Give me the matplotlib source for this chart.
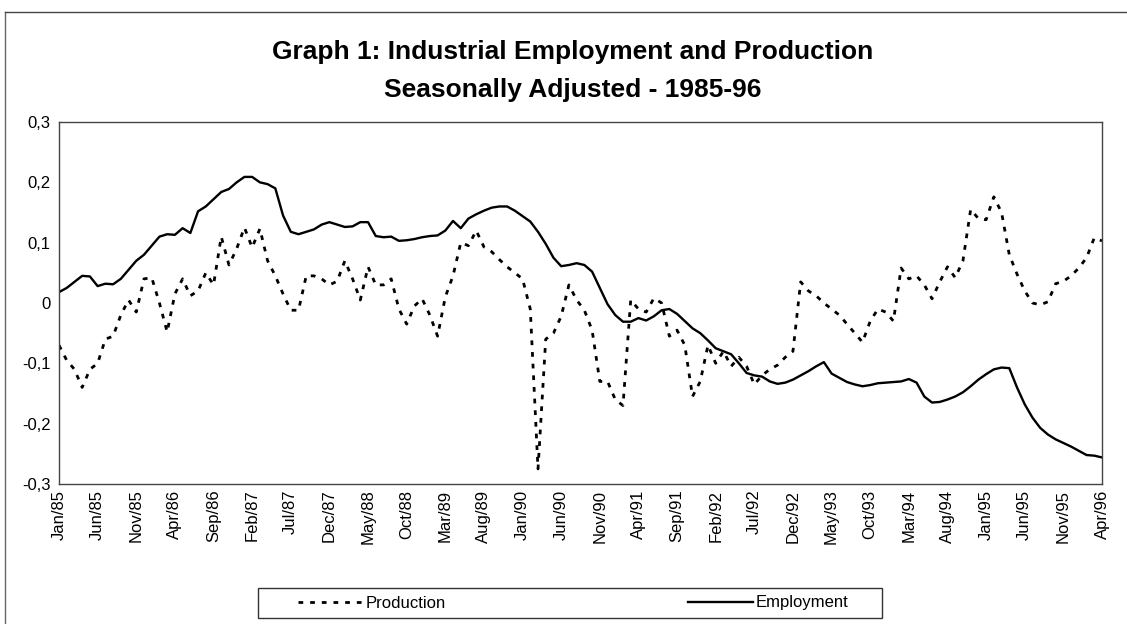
import matplotlib
matplotlib.use("Agg")
import matplotlib.pyplot as plt
from matplotlib.lines import Line2D
from matplotlib.patches import Rectangle
import numpy as np

plt.rcParams['font.family'] = ['Liberation Sans', 'DejaVu Sans']

# Monthly series Jan/85 .. Apr/96 (136 months)
months_abbr = ["Jan", "Feb", "Mar", "Apr", "May", "Jun", "Jul", "Aug", "Sep", "Oct", "Nov", "Dec"]
start_year = 85
n_months = 136

employment = [
    0.018, 0.025, 0.035, 0.045, 0.044, 0.028, 0.032, 0.031, 0.040, 0.055,
    0.070, 0.080, 0.095, 0.110, 0.114, 0.113, 0.124, 0.116, 0.152, 0.160,
    0.172, 0.184, 0.189, 0.200, 0.209, 0.209, 0.200, 0.197, 0.190, 0.145,
    0.118, 0.114, 0.118, 0.122, 0.130, 0.134, 0.130, 0.126, 0.127, 0.134,
    0.134, 0.111, 0.109, 0.110, 0.103, 0.104, 0.106, 0.109, 0.111, 0.112,
    0.120, 0.136, 0.124, 0.140, 0.147, 0.153, 0.158, 0.160, 0.160, 0.153,
    0.144, 0.135, 0.118, 0.098, 0.075, 0.061, 0.063, 0.066, 0.063, 0.052,
    0.025, -0.002, -0.020, -0.031, -0.031, -0.025, -0.029, -0.022, -0.012, -0.010,
    -0.018, -0.030, -0.042, -0.050, -0.062, -0.075, -0.080, -0.085, -0.100, -0.116,
    -0.120, -0.122, -0.130, -0.134, -0.132, -0.127, -0.120, -0.113, -0.105, -0.098,
    -0.117, -0.124, -0.131, -0.135, -0.138, -0.136, -0.133, -0.132, -0.131, -0.130,
    -0.126, -0.132, -0.155, -0.165, -0.164, -0.160, -0.155, -0.148, -0.138, -0.127,
    -0.118, -0.110, -0.107, -0.108, -0.140, -0.168, -0.190, -0.207, -0.218, -0.226,
    -0.232, -0.238, -0.245, -0.252, -0.253, -0.256,
]

production = [
    -0.070, -0.095, -0.110, -0.140, -0.110, -0.100, -0.060, -0.055, -0.020, 0.005,
    -0.015, 0.040, 0.042, 0.000, -0.048, 0.015, 0.040, 0.012, 0.020, 0.050,
    0.030, 0.110, 0.063, 0.090, 0.125, 0.092, 0.123, 0.070, 0.045, 0.015,
    -0.012, -0.012, 0.045, 0.045, 0.040, 0.030, 0.036, 0.070, 0.040, 0.005,
    0.060, 0.030, 0.030, 0.040, -0.010, -0.035, -0.005, 0.007, -0.020, -0.055,
    0.010, 0.045, 0.100, 0.095, 0.120, 0.093, 0.085, 0.072, 0.060, 0.050,
    0.040, -0.010, -0.275, -0.060, -0.050, -0.022, 0.030, 0.005, -0.012, -0.045,
    -0.130, -0.130, -0.160, -0.170, 0.005, -0.010, -0.015, 0.008, 0.000, -0.055,
    -0.045, -0.070, -0.155, -0.130, -0.070, -0.100, -0.080, -0.105, -0.090, -0.105,
    -0.135, -0.120, -0.110, -0.103, -0.090, -0.080, 0.035, 0.020, 0.012, 0.000,
    -0.010, -0.020, -0.035, -0.050, -0.065, -0.030, -0.010, -0.015, -0.030, 0.058,
    0.040, 0.045, 0.030, 0.007, 0.035, 0.060, 0.042, 0.070, 0.155, 0.140,
    0.138, 0.176, 0.150, 0.080, 0.048, 0.020, 0.000, -0.003, 0.002, 0.032,
    0.036, 0.045, 0.058, 0.075, 0.108, 0.103,
]

title_lines = ["Graph 1: Industrial Employment and Production", "Seasonally Adjusted - 1985-96"]
series_names = ["Production", "Employment"]
y_ticks = [-0.3, -0.2, -0.1, 0.0, 0.1, 0.2, 0.3]
y_tick_labels = ["-0,3", "-0,2", "-0,1", "0", "0,1", "0,2", "0,3"]

month_labels = []
for i in range(n_months):
    m = i % 12
    y = (start_year + i // 12) % 100
    month_labels.append(f"{months_abbr[m]}/{y:02d}")

W, H = 1127, 624
fig = plt.figure(figsize=(W / 100, H / 100), dpi=100)
ax = fig.add_axes([59 / W, 1 - 484 / H, (1102 - 59) / W, (484 - 122) / H])

x = np.arange(n_months)
ax.plot(x, production, color='black', lw=2.0, linestyle=(0, (1.7, 2.5)), label=series_names[0])
ax.plot(x, employment, color='black', lw=1.7, linestyle='-', label=series_names[1])

ax.set_xlim(0, n_months - 1)
ax.set_ylim(-0.3, 0.3)
ax.set_yticks(y_ticks)
ax.set_yticklabels(y_tick_labels, fontsize=12)
tick_idx = list(range(0, n_months, 5))
ax.set_xticks(tick_idx)
ax.set_xticklabels([month_labels[i] for i in tick_idx], rotation=90, fontsize=12)
ax.tick_params(axis='x', length=0, pad=4)
ax.tick_params(axis='y', length=0, pad=6)
for s in ax.spines.values():
    s.set_color('#444444')
    s.set_linewidth(1.0)

# Title
fig.text(573 / W, 1 - 52 / H, title_lines[0], ha='center', va='center', fontsize=19, fontweight='bold')
fig.text(573 / W, 1 - 90 / H, title_lines[1], ha='center', va='center', fontsize=19, fontweight='bold')

# Outer frame (left and top edges)
fig.add_artist(Line2D([5 / W, 5 / W], [0, 1 - 12 / H], transform=fig.transFigure, color='#666666', lw=1.0))
fig.add_artist(Line2D([5 / W, 1], [1 - 12 / H, 1 - 12 / H], transform=fig.transFigure, color='#444444', lw=1.0))

# Legend box and entries
fig.add_artist(Rectangle((258 / W, 1 - 618 / H), (882 - 258) / W, 30 / H, transform=fig.transFigure,
                         fill=False, edgecolor='#333333', lw=1.0))
leg = fig.legend(loc='center', bbox_to_anchor=(298 / W, 1 - 616 / H, (848 - 298) / W, 26 / H),
                 mode='expand', ncol=2, handlelength=3.9, handletextpad=0.15, fontsize=12,
                 frameon=False, borderaxespad=0, borderpad=0.0)

fig.savefig('out.png', dpi=100)
